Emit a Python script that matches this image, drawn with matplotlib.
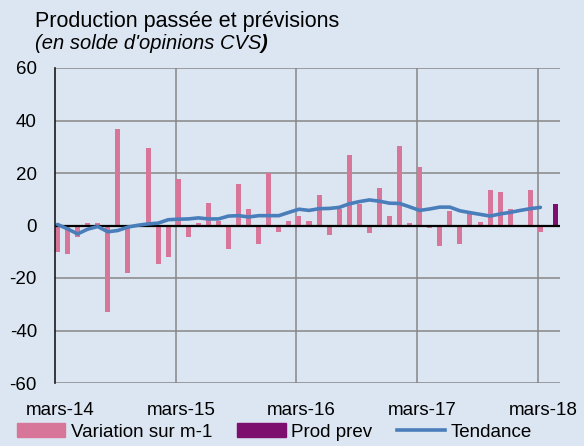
import matplotlib
matplotlib.use("Agg")
import matplotlib.pyplot as plt
import numpy as np

plt.rcParams['font.family'] = ['Liberation Sans', 'DejaVu Sans']
plt.rcParams['axes.unicode_minus'] = False

# variation sur m-1, mensuel depuis mars-14
variation = [-10, -10.7, -4.4, 0.9, 1, -33, 36.9, -18.2, 0.5, 29.4, -14.8, -12, 17.8,
             -4.5, 1, 8.4, 1.7, -9, 16, 6.4, -7, 20.1, -2.4, 1.7, 3.6,
             1.6, 11.6, -3.6, 6.3, 27, 8.3, -3, 14.2, 3.5, 30.4, 1, 22.2, -1,
             -7.9, 5.6, -7.1, 4.6, 1.5, 13.6, 12.9, 6.1, 0.3, 13.6, -2.5]
tendance = [0.4, -1.3, -3.2, -1.4, -0.4, -2.4, -1.9, -0.6, 0.1, 0.6, 0.9, 2.2, 2.4,
            2.5, 2.9, 2.5, 2.5, 3.6, 3.75, 3.25, 3.75, 3.75, 3.75, 5.0, 6.2,
            5.75, 6.4, 6.5, 6.9, 8.25, 9.1, 9.75, 9.25, 8.5, 8.4, 7.1, 5.75, 6.3,
            7.0, 7.0, 5.6, 4.9, 4.25, 3.6, 4.4, 5.0, 5.75, 6.4, 6.9]
prev_month = [49]
prod_prev = [8.1]
tick_labels = ['mars-14', 'mars-15', 'mars-16', 'mars-17', 'mars-18']

bg = '#dce6f2'
pink = '#d8769a'
purple = '#7d0f6f'
blue = '#4a7ebb'
grid_c = '#868686'

months = np.arange(len(variation))

fig = plt.figure(figsize=(5.84, 4.46), dpi=100, facecolor=bg)
ax = fig.add_axes([55/584, 1-383/446, 505/584, 315/446], facecolor=bg)

ax.bar(months + 0.25, variation, width=0.5, color=pink, zorder=2)
ax.bar(np.array(prev_month) + 0.75, prod_prev, width=0.57, color=purple, zorder=2)
ax.axhline(0, color='black', lw=1.6, zorder=3)
ax.plot(months + 0.25, tendance, color=blue, lw=2.6, zorder=4, solid_capstyle='round')

ax.set_ylim(-60, 60)
ax.set_yticks(range(-60, 61, 20))
ax.set_xlim(0, 50.2)
ax.set_xticks([12, 24, 36, 48])
ax.set_xticks([0.5, 12.5, 24.5, 36.5, 48.5], minor=True)
ax.set_xticklabels([])
ax.set_xticklabels(tick_labels, minor=True)
ax.tick_params(axis='x', which='both', length=0, labelsize=13.5, pad=14)
ax.tick_params(axis='y', length=0, labelsize=13.5, pad=13)
ax.grid(True, axis='both', which='major', color=grid_c, lw=1.1, zorder=1)
for s in ['top', 'right', 'bottom']:
    ax.spines[s].set_visible(False)
ax.spines['left'].set_color('#1a1a1a')
ax.spines['left'].set_linewidth(1.2)
ax.spines['left'].set_zorder(5)

# titre
fig.text(35/584, 1-27/446, 'Production passée et prévisions', fontsize=15.5, va='baseline')
sub = fig.text(35/584, 1-49/446, "(en solde d'opinions CVS", fontsize=14.5,
               style='italic', va='baseline')
r = fig.canvas.get_renderer()
bb = sub.get_window_extent(r)
fig.text(bb.x1/fig.bbox.width, 1-49/446, ')', fontsize=14.5, style='italic',
         weight='bold', va='baseline')

from matplotlib.patches import Patch
from matplotlib.lines import Line2D
handles = [Patch(color=pink), Patch(color=purple), Line2D([], [], color=blue, lw=2.6)]
fig.legend(handles, ['Variation sur m-1', 'Prod prev', 'Tendance'], loc='lower center',
           bbox_to_anchor=(0.47, -0.018), ncol=3, frameon=False, fontsize=13.5,
           handlelength=2.6, handleheight=0.75, handletextpad=0.3, columnspacing=1.3,
           borderpad=0.2)

fig.savefig('out.png', dpi=100, facecolor=bg)
